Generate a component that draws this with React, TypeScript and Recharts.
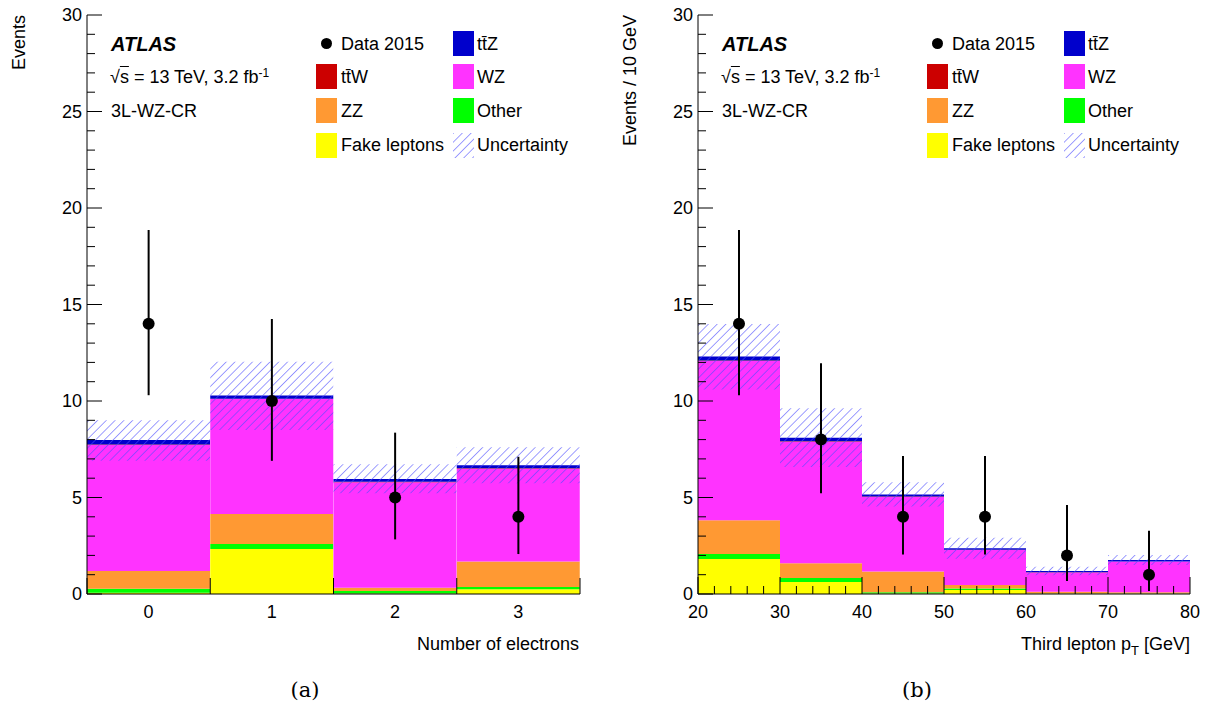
import React from 'react';
import { ComposedChart, Bar, Scatter, XAxis, YAxis, ErrorBar } from 'recharts';

const FONT = '"Liberation Sans", Arial, Helvetica, sans-serif';

// ---------- Panel (a): number of electrons ----------
const electronBins = [0, 1, 2, 3];
const electronTickLabels = ['0', '1', '2', '3'];
const electronFake = [0.07, 2.33, 0.02, 0.24];
const electronOther = [0.2, 0.26, 0.13, 0.12];
const electronZZ = [0.92, 1.56, 0.18, 1.33];
const electronWZ = [6.53, 5.95, 5.46, 4.8];
const electronTtW = [0.02, 0.02, 0.02, 0.02];
const electronTtZ = [0.24, 0.16, 0.15, 0.16];
const electronUncLow = [6.9, 8.5, 5.22, 5.74];
const electronUncHigh = [9.0, 12.04, 6.72, 7.6];
const electronData = [14, 10, 5, 4];
const electronDataLow = [10.3, 6.9, 2.83, 2.07];
const electronDataHigh = [18.86, 14.25, 8.36, 7.11];
const electronBottomTicks = [-0.5, 0, 0.5, 1, 1.5, 2, 2.5, 3, 3.5];
const electronTopTicks = [0.5, 1.5, 2.5];

// ---------- Panel (b): third lepton pT ----------
const ptBins = [25, 35, 45, 55, 65, 75];
const ptFake = [1.81, 0.62, 0.02, 0.21, 0.01, 0.01];
const ptOther = [0.26, 0.21, 0.07, 0.07, 0.02, 0.02];
const ptZZ = [1.75, 0.76, 1.08, 0.19, 0.09, 0.06];
const ptWZ = [8.25, 6.3, 3.86, 1.81, 1.0, 1.59];
const ptTtW = [0.03, 0.02, 0.02, 0.01, 0.01, 0.01];
const ptTtZ = [0.2, 0.19, 0.11, 0.08, 0.06, 0.07];
const ptUncLow = [10.6, 6.58, 4.53, 1.82, 0.97, 1.5];
const ptUncHigh = [13.99, 9.62, 5.79, 2.92, 1.41, 2.02];
const ptData = [14, 8, 4, 4, 2, 1];
const ptDataLow = [10.3, 5.22, 2.05, 2.05, 0.67, 0.16];
const ptDataHigh = [18.86, 11.95, 7.15, 7.15, 4.61, 3.28];
const ptTicks = [20, 22, 24, 26, 28, 30, 32, 34, 36, 38, 40, 42, 44, 46, 48, 50, 52, 54, 56, 58, 60, 62, 64, 66, 68, 70, 72, 74, 76, 78, 80];

const yTicks = [0, 1, 2, 3, 4, 5, 6, 7, 8, 9, 10, 11, 12, 13, 14, 15, 16, 17, 18, 19, 20, 21, 22, 23, 24, 25, 26, 27, 28, 29, 30];

const SERIES = [
  { key: 'fake', color: '#ffff00' },
  { key: 'other', color: '#00ff00' },
  { key: 'zz', color: '#ff9933' },
  { key: 'wz', color: '#ff33ff' },
  { key: 'ttw', color: '#cc0000' },
  { key: 'ttz', color: '#0000cc' },
];

function buildRows(
  x: number[], fake: number[], other: number[], zz: number[], wz: number[], ttw: number[], ttz: number[],
  uLow: number[], uHigh: number[], d: number[], dLow: number[], dHigh: number[]
) {
  return x.map((v, i) => ({
    x: v,
    fake: fake[i],
    other: other[i],
    zz: zz[i],
    wz: wz[i],
    ttw: ttw[i],
    ttz: ttz[i],
    unc: [uLow[i], uHigh[i]],
    data: d[i],
    err: [d[i] - dLow[i], dHigh[i] - d[i]],
  }));
}

const electronRows = buildRows(electronBins, electronFake, electronOther, electronZZ, electronWZ, electronTtW, electronTtZ,
  electronUncLow, electronUncHigh, electronData, electronDataLow, electronDataHigh);
const ptRows = buildRows(ptBins, ptFake, ptOther, ptZZ, ptWZ, ptTtW, ptTtZ,
  ptUncLow, ptUncHigh, ptData, ptDataLow, ptDataHigh);

const YTickLeft = (props: any) => {
  const { x, y, payload } = props;
  const v = payload.value;
  const major = v % 5 === 0;
  return (
    <g>
      <line x1={x} x2={x + (major ? 15 : 8)} y1={y} y2={y} stroke="#000" strokeWidth={1} />
      {major && (
        <text x={x - 5} y={y} dy="0.35em" textAnchor="end" fontSize={18} fontFamily={FONT} fill="#000">{v}</text>
      )}
    </g>
  );
};

const YTickRight = (props: any) => {
  const { x, y, payload } = props;
  const v = payload.value;
  const major = v % 5 === 0;
  return <line x1={x} x2={x - (major ? 15 : 8)} y1={y} y2={y} stroke="#000" strokeWidth={1} />;
};

const ElectronBottomTick = (props: any) => {
  const { x, y, payload } = props;
  const v = payload.value;
  if (Number.isInteger(v)) {
    const idx = electronBins.indexOf(v);
    return (
      <text x={x} y={y + 24} textAnchor="middle" fontSize={18} fontFamily={FONT} fill="#000">{electronTickLabels[idx]}</text>
    );
  }
  return <line x1={x} x2={x} y1={y} y2={y - 16} stroke="#000" strokeWidth={1} />;
};

const ElectronTopTick = (props: any) => {
  const { x, y } = props;
  return <line x1={x} x2={x} y1={y} y2={y + 16} stroke="#000" strokeWidth={1} />;
};

const PtBottomTick = (props: any) => {
  const { x, y, payload } = props;
  const v = payload.value;
  const major = v % 10 === 0;
  return (
    <g>
      <line x1={x} x2={x} y1={y} y2={y - (major ? 17 : 8)} stroke="#000" strokeWidth={1} />
      {major && (
        <text x={x} y={y + 24} textAnchor="middle" fontSize={18} fontFamily={FONT} fill="#000">{v}</text>
      )}
    </g>
  );
};

const PtTopTick = (props: any) => {
  const { x, y, payload } = props;
  const v = payload.value;
  const major = v % 10 === 0;
  return <line x1={x} x2={x} y1={y} y2={y + (major ? 17 : 8)} stroke="#000" strokeWidth={1} />;
};

const DataDot = (props: any) => <circle cx={props.cx} cy={props.cy} r={6} fill="#000" />;

function Panel(p: {
  rows: any[]; width: number; marginRight: number; xDomain: number[];
  bottomTicks: number[]; topTicks: number[]; bottomTick: any; topTick: any;
}) {
  return (
    <ComposedChart
      width={p.width}
      height={715}
      data={p.rows}
      margin={{ top: 15, right: p.marginRight, bottom: 91, left: 37 }}
      barCategoryGap={0}
      barGap={0}
    >
      <XAxis xAxisId="cat" dataKey="x" type="category" hide />
      <XAxis xAxisId="cat2" dataKey="x" type="category" hide />
      <XAxis xAxisId="bottom" dataKey="x" type="number" domain={p.xDomain} ticks={p.bottomTicks} interval={0} height={30}
        tickSize={0} tickMargin={0} tickLine={false} axisLine={{ stroke: '#000' }} tick={p.bottomTick} allowDataOverflow />
      <XAxis xAxisId="top" dataKey="x" orientation="top" type="number" domain={p.xDomain} ticks={p.topTicks} interval={0} height={0}
        tickSize={0} tickMargin={0} tickLine={false} axisLine={{ stroke: '#000' }} tick={p.topTick} allowDataOverflow />
      <YAxis yAxisId="main" type="number" domain={[0, 30]} ticks={yTicks} interval={0} width={50}
        tickSize={0} tickMargin={0} tickLine={false} axisLine={{ stroke: '#000' }} tick={YTickLeft} allowDataOverflow />
      <YAxis yAxisId="right" orientation="right" type="number" domain={[0, 30]} ticks={yTicks} interval={0} width={0}
        tickSize={0} tickMargin={0} tickLine={false} axisLine={{ stroke: '#000' }} tick={YTickRight} allowDataOverflow />
      <YAxis yAxisId="unc" type="number" domain={[0, 30]} hide allowDataOverflow />
      {SERIES.map((s) => (
        <Bar key={s.key} dataKey={s.key} stackId="mc" xAxisId="cat" yAxisId="main" fill={s.color} isAnimationActive={false} />
      ))}
      <Bar dataKey="unc" xAxisId="cat2" yAxisId="unc" fill="url(#hatch)" isAnimationActive={false} />
      <Scatter dataKey="data" xAxisId="cat" yAxisId="main" fill="#000" shape={DataDot} isAnimationActive={false}>
        <ErrorBar dataKey="err" direction="y" width={0} stroke="#000" strokeWidth={2} isAnimationActive={false} />
      </Scatter>
    </ComposedChart>
  );
}

const txt: React.CSSProperties = {
  position: 'absolute', fontFamily: FONT, fontSize: 18, lineHeight: '20px', color: '#000', whiteSpace: 'nowrap',
};

function Swatch({ left, cy, fill }: { left: number; cy: number; fill: string }) {
  return (
    <svg style={{ position: 'absolute', left, top: cy - 12.5 }} width={21} height={25}>
      <rect x={0} y={0} width={21} height={25} fill={fill} />
    </svg>
  );
}

function LegendBlock({ dx }: { dx: number }) {
  const rows = [43.5, 76.5, 110.5, 145];
  const c1 = 316 + dx;
  const c2 = 453 + dx;
  const t1 = 341 + dx;
  const t2 = 477 + dx;
  return (
    <>
      <div style={{ ...txt, left: 111 + dx, top: 44 - 11, fontSize: 20, lineHeight: '22px', fontWeight: 'bold', fontStyle: 'italic' }}>ATLAS</div>
      <div style={{ ...txt, left: 110 + dx, top: 77 - 10 }}>
        √<span style={{ textDecoration: 'overline' }}>s</span> = 13 TeV, 3.2 fb<sup style={{ fontSize: 12, verticalAlign: 'top', lineHeight: '12px' }}>-1</sup>
      </div>
      <div style={{ ...txt, left: 111 + dx, top: 111 - 10 }}>3L-WZ-CR</div>

      <svg style={{ position: 'absolute', left: c1, top: rows[0] - 12.5 }} width={21} height={25}>
        <circle cx={10.5} cy={12.5} r={5.5} fill="#000" />
      </svg>
      <div style={{ ...txt, left: t1, top: rows[0] - 10 }}>Data 2015</div>
      <Swatch left={c2} cy={rows[0]} fill="#0000cc" />
      <div style={{ ...txt, left: t2, top: rows[0] - 10 }}>tt̄Z</div>

      <Swatch left={c1} cy={rows[1]} fill="#cc0000" />
      <div style={{ ...txt, left: t1, top: rows[1] - 10 }}>tt̄W</div>
      <Swatch left={c2} cy={rows[1]} fill="#ff33ff" />
      <div style={{ ...txt, left: t2, top: rows[1] - 10 }}>WZ</div>

      <Swatch left={c1} cy={rows[2]} fill="#ff9933" />
      <div style={{ ...txt, left: t1, top: rows[2] - 10 }}>ZZ</div>
      <Swatch left={c2} cy={rows[2]} fill="#00ff00" />
      <div style={{ ...txt, left: t2, top: rows[2] - 10 }}>Other</div>

      <Swatch left={c1} cy={rows[3]} fill="#ffff00" />
      <div style={{ ...txt, left: t1, top: rows[3] - 10 }}>Fake leptons</div>
      <Swatch left={c2} cy={rows[3]} fill="url(#hatch)" />
      <div style={{ ...txt, left: t2, top: rows[3] - 10 }}>Uncertainty</div>
    </>
  );
}

export default function App() {
  return (
    <div style={{ position: 'absolute', left: 0, top: 0, width: 1214, height: 715, background: '#fff', overflow: 'hidden' }}>
      <svg width={0} height={0} style={{ position: 'absolute' }}>
        <defs>
          <pattern id="hatch" patternUnits="userSpaceOnUse" width={6.2} height={6.2} patternTransform="rotate(45)">
            <line x1={0} y1={0} x2={0} y2={6.2} stroke="#4d4dff" strokeWidth={1.1} />
          </pattern>
        </defs>
      </svg>

      <div style={{ position: 'absolute', left: 0, top: 0 }}>
        <Panel rows={electronRows} width={607} marginRight={27} xDomain={[-0.5, 3.5]}
          bottomTicks={electronBottomTicks} topTicks={electronTopTicks}
          bottomTick={ElectronBottomTick} topTick={ElectronTopTick} />
      </div>
      <div style={{ position: 'absolute', left: 611, top: 0 }}>
        <Panel rows={ptRows} width={603} marginRight={24} xDomain={[20, 80]}
          bottomTicks={ptTicks} topTicks={ptTicks}
          bottomTick={PtBottomTick} topTick={PtTopTick} />
      </div>

      <LegendBlock dx={0} />
      <LegendBlock dx={611} />

      <svg width={1214} height={715} style={{ position: 'absolute', left: 0, top: 0, pointerEvents: 'none' }}>
        <text x={24.5} y={15} transform="rotate(-90 24.5 15)" textAnchor="end" fontSize={18} fontFamily={FONT} fill="#000">Events</text>
        <text x={635.5} y={15} transform="rotate(-90 635.5 15)" textAnchor="end" fontSize={18} fontFamily={FONT} fill="#000">Events / 10 GeV</text>
        <text x={579} y={650} textAnchor="end" fontSize={18} fontFamily={FONT} fill="#000">Number of electrons</text>
        <text x={1190} y={650} textAnchor="end" fontSize={18} fontFamily={FONT} fill="#000">
          <tspan>Third lepton p</tspan>
          <tspan fontSize={13} dy={5}>T</tspan>
          <tspan dy={-5}> [GeV]</tspan>
        </text>
        <text x={305} y={697} textAnchor="middle" fontSize={21} fontFamily='"DejaVu Serif", "Liberation Serif", serif' fill="#000">(a)</text>
        <text x={917} y={697} textAnchor="middle" fontSize={21} fontFamily='"DejaVu Serif", "Liberation Serif", serif' fill="#000">(b)</text>
      </svg>
    </div>
  );
}
